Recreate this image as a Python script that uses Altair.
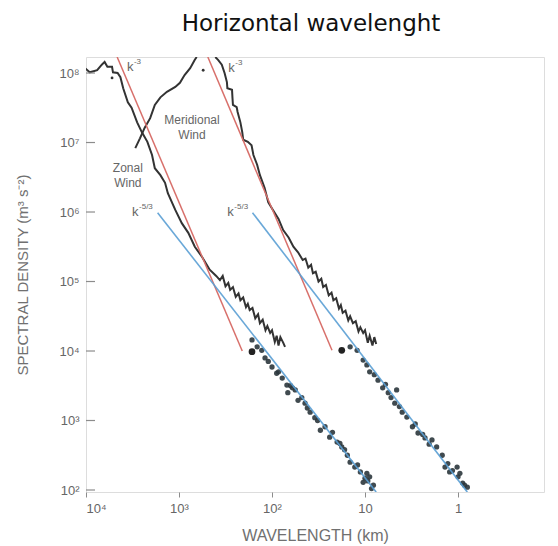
import altair as alt
import numpy as np
import pandas as pd

# ---- values (log10 of wavelength in km, log10 of spectral density) ----
zonal_log_wl = [4.01, 3.96, 3.88, 3.83, 3.80, 3.77, 3.72, 3.71, 3.66, 3.63, 3.60, 3.55, 3.51,
                3.45, 3.40, 3.34, 3.29, 3.26, 3.20, 3.15, 3.12, 3.04, 2.97, 2.90, 2.83, 2.75,
                2.67, 2.60, 2.56, 2.53, 2.50, 2.47, 2.45, 2.42, 2.39, 2.36, 2.34, 2.31, 2.28,
                2.26, 2.24, 2.21, 2.18, 2.15, 2.13, 2.10, 2.07, 2.05, 2.02, 2.00, 1.97, 1.95,
                1.93, 1.91, 1.88, 1.86]
zonal_log_psd = [8.07, 8.01, 8.04, 8.12, 8.16, 8.09, 8.09, 8.01, 8.00, 7.94, 7.78, 7.58, 7.50,
                 7.29, 7.15, 7.01, 6.82, 6.63, 6.53, 6.42, 6.27, 6.03, 5.84, 5.70, 5.50, 5.35,
                 5.17, 5.08, 5.02, 5.08, 4.93, 4.98, 4.88, 4.92, 4.78, 4.83, 4.73, 4.77, 4.63,
                 4.68, 4.59, 4.62, 4.47, 4.53, 4.40, 4.45, 4.30, 4.36, 4.26, 4.30, 4.13, 4.22,
                 4.08, 4.20, 4.12, 4.06]

# meridional spectrum: rises to the top edge, leaves the frame, comes back in
merid_log_wl = [3.47, 3.42, 3.37, 3.31, 3.26, 3.20, 3.13, 3.04, 2.99, 2.94, 2.88, 2.83, 2.81,
                2.61, 2.58, 2.54, 2.51, 2.485, 2.48, 2.43, 2.425, 2.42, 2.38, 2.37,
                2.34, 2.32, 2.31, 2.26, 2.22, 2.20, 2.16, 2.13, 2.08, 2.04, 1.99, 1.93, 1.88,
                1.82, 1.77, 1.72, 1.67, 1.64, 1.61, 1.58, 1.56, 1.53, 1.50, 1.47, 1.45, 1.42,
                1.39, 1.36, 1.34, 1.31, 1.28, 1.26, 1.24, 1.21, 1.18, 1.16, 1.13, 1.10, 1.07,
                1.05, 1.02, 1.00, 0.97, 0.95, 0.92, 0.90, 0.88]
merid_log_psd = [6.92, 7.06, 7.21, 7.35, 7.54, 7.65, 7.73, 7.80, 7.86, 7.97, 8.07, 8.19, 8.23,
                 8.23, 8.19, 8.12, 8.00, 7.87, 7.78, 7.76, 7.64, 7.54, 7.51, 7.44,
                 7.29, 7.15, 7.04, 7.01, 6.96, 6.82, 6.68, 6.53, 6.35, 6.14, 6.03, 5.90, 5.74,
                 5.63, 5.50, 5.42, 5.31, 5.33, 5.20, 5.24, 5.12, 5.14, 5.00, 5.04, 4.92, 4.95,
                 4.80, 4.84, 4.73, 4.76, 4.61, 4.66, 4.55, 4.58, 4.44, 4.50, 4.40, 4.43, 4.28,
                 4.34, 4.26, 4.30, 4.12, 4.22, 4.08, 4.20, 4.10]
merid_part = ["up"] * 13 + ["down"] * 58

dots1_log_wl = [2.215, 2.11, 2.075, 2.00, 1.95, 1.89, 1.84, 1.83, 1.75, 1.72, 1.645, 1.59, 1.54,
                1.48, 1.43, 1.38, 1.30, 1.25, 1.19, 1.16, 1.11, 1.05, 1.00, 0.95, 1.02, 0.91,
                2.16, 2.04, 1.80, 1.68, 1.35, 1.22, 0.98, 1.93, 1.78, 1.62, 1.51, 1.27, 1.08,
                0.97, 0.93]
dots1_log_psd = [4.16, 4.01, 3.90, 3.77, 3.68, 3.61, 3.51, 3.40, 3.44, 3.29, 3.25, 3.12, 3.04,
                 2.86, 2.91, 2.76, 2.69, 2.62, 2.50, 2.40, 2.33, 2.26, 2.17, 2.19, 2.11, 2.07,
                 4.06, 3.85, 3.50, 3.33, 2.83, 2.58, 2.24, 3.70, 3.47, 3.18, 3.00, 2.67, 2.36,
                 2.13, 2.02]

dots2_log_wl = [1.16, 1.085, 1.02, 0.95, 0.86, 0.81, 0.75, 0.66, 0.68, 0.60, 0.55, 0.49, 0.43,
                0.355, 0.28, 0.23, 0.17, 0.14, 0.09, 0.01, 0.00, -0.05, -0.10, 0.90, 0.72,
                0.38, 0.06, 0.98, 0.78, 0.63, 0.46, 0.31, 0.11, -0.02, -0.07]
dots2_log_psd = [4.06, 4.01, 3.87, 3.70, 3.58, 3.47, 3.40, 3.44, 3.25, 3.12, 3.05, 2.91, 2.82,
                 2.75, 2.72, 2.62, 2.50, 2.33, 2.26, 2.33, 2.19, 2.10, 2.04, 3.66, 3.33,
                 2.80, 2.28, 3.80, 3.52, 3.20, 2.95, 2.66, 2.38, 2.24, 2.07]

big_dots_log_wl = [2.215, 1.25]
big_dots_log_psd = [3.99, 4.01]
stray_dots_log_wl = [3.72, 2.74]
stray_dots_log_psd = [7.93, 8.04]

red_log_wl = [3.665, 2.32, 2.69, 1.355]
red_log_psd = [8.23, 4.00, 8.23, 4.01]
red_seg = ["a", "a", "b", "b"]

blue_log_wl = [3.23, 0.88, 2.21, -0.10]
blue_log_psd = [5.99, 1.97, 5.99, 1.97]
blue_seg = ["a", "a", "b", "b"]

k_log_wl = [3.56, 2.47, 3.505, 2.48]
k_log_psd = [8.09, 8.07, 6.00, 6.00]
k_sup = ["-3", "-3", "-5/3", "-5/3"]

label_text = ["Meridional", "Wind", "Zonal", "Wind"]
label_log_wl = [2.86, 2.86, 3.55, 3.55]
label_log_psd = [7.32, 7.11, 6.63, 6.42]

x_ticks = [1, 10, 100, 1000, 10000]
y_ticks = [1e2, 1e3, 1e4, 1e5, 1e6, 1e7, 1e8]


def table(lw, lp, **extra):
    d = {"wl": np.power(10.0, lw), "psd": np.power(10.0, lp), "order": np.arange(len(lw))}
    d.update(extra)
    return pd.DataFrame(d)


W, H = 458, 435
xscale = alt.Scale(type="log", domain=[0.119, 1e4], reverse=True, nice=False)
yscale = alt.Scale(type="log", domain=[93.6, 1.70e8], nice=False)

xax = alt.Axis(values=x_ticks, title="WAVELENGTH  (km)",
               labelExpr="['1','10','10²','10³','10⁴'][round(log(datum.value)/LN10)]",
               tickSize=5, tickColor="#8c8c8c", labelFontSize=13, labelColor="#666666",
               labelFont="Liberation Sans", labelPadding=5, titleFont="Liberation Sans",
               titleFontSize=16, titleFontWeight="normal", titleColor="#707070",
               titlePadding=12, domain=False, grid=False)
yax = alt.Axis(values=y_ticks, title="SPECTRAL DENSITY  (m³ s⁻²)",
               labelExpr="['','','10²','10³','10⁴','10⁵','10⁶','10⁷','10⁸'][round(log(datum.value)/LN10)]",
               ticks=False, labelFontSize=13, labelColor="#666666", labelFont="Liberation Sans",
               labelPadding=7, titleFont="Liberation Sans", titleFontSize=15,
               titleFontWeight="normal", titleColor="#707070", titlePadding=28,
               domain=False, grid=False)


def X(ax=None):
    if ax is None:
        return alt.X("wl:Q", scale=xscale)
    return alt.X("wl:Q", scale=xscale, axis=ax)


def Y(ax=None):
    if ax is None:
        return alt.Y("psd:Q", scale=yscale)
    return alt.Y("psd:Q", scale=yscale, axis=ax)


zonal = alt.Chart(table(zonal_log_wl, zonal_log_psd)).mark_line(
    clip=True, color="#333333", strokeWidth=2).encode(x=X(xax), y=Y(yax), order="order:Q")

merid = alt.Chart(table(merid_log_wl, merid_log_psd, part=merid_part)).mark_line(
    clip=True, color="#333333", strokeWidth=2).encode(
    x=X(), y=Y(), order="order:Q", detail="part:N")

dots = alt.Chart(pd.concat([table(dots1_log_wl, dots1_log_psd),
                            table(dots2_log_wl, dots2_log_psd)])).mark_circle(
    clip=True, color="#2b363c", size=28, opacity=0.9).encode(x=X(), y=Y())

big = alt.Chart(table(big_dots_log_wl, big_dots_log_psd)).mark_circle(
    color="#222222", size=45, opacity=1).encode(x=X(), y=Y())
stray = alt.Chart(table(stray_dots_log_wl, stray_dots_log_psd)).mark_circle(
    color="#333333", size=8, opacity=1).encode(x=X(), y=Y())

red = alt.Chart(table(red_log_wl, red_log_psd, seg=red_seg)).mark_line(
    clip=True, color="#d8706b", strokeWidth=1.5).encode(x=X(), y=Y(), detail="seg:N")
blue = alt.Chart(table(blue_log_wl, blue_log_psd, seg=blue_seg)).mark_line(
    clip=True, color="#5a9fd4", strokeWidth=1.6, opacity=0.9).encode(x=X(), y=Y(), detail="seg:N")

k_df = table(k_log_wl, k_log_psd, sup=k_sup)
k_base = alt.Chart(k_df).mark_text(
    align="left", baseline="middle", fontSize=13, color="#666666", font="Liberation Sans"
).encode(x=X(), y=Y(), text=alt.value("k"))
k_up = alt.Chart(k_df).mark_text(
    align="left", baseline="middle", fontSize=8, color="#666666", font="Liberation Sans",
    dx=7, dy=-5).encode(x=X(), y=Y(), text="sup:N")

labels = alt.Chart(table(label_log_wl, label_log_psd, txt=label_text)).mark_text(
    align="center", baseline="middle", fontSize=12, color="#666666", font="Liberation Sans"
).encode(x=X(), y=Y(), text="txt:N")

ytick_rules = alt.Chart(pd.DataFrame({"psd": y_ticks})).mark_rule(
    color="#8c8c8c", strokeWidth=1.2).encode(y=Y(), x=alt.value(0), x2=alt.value(9))

chart = alt.layer(
    zonal, merid, dots, big, stray, red, blue, k_base, k_up, labels, ytick_rules
).properties(
    width=W, height=H,
    padding={"left": 86, "top": 57, "right": 14, "bottom": 54},
    autosize=alt.AutoSizeParams(type="none"),
    title=alt.TitleParams("Horizontal wavelenght", fontSize=23, font="DejaVu Sans",
                          fontWeight="normal", color="#111111", anchor="middle",
                          baseline="alphabetic", offset=3, dx=-4),
).configure_view(stroke="#8c8c8c", strokeWidth=1.5).configure(background="white")

chart.save("out.html", embed_options={"renderer": "svg", "actions": False})
